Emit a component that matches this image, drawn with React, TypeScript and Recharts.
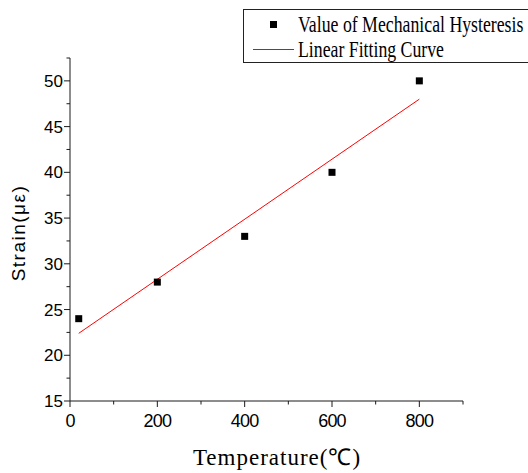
import React from 'react';
import { ScatterChart, Scatter, XAxis, YAxis, Legend } from 'recharts';

// Measured points
const tempC = [20, 200, 400, 600, 800];
const strain = [24, 28, 33, 40, 50];
// Linear fitting curve end points
const fitTemp = [20, 800];
const fitStrain = [22.4, 48.0];
// Axis ticks
const xTicks = [0, 100, 200, 300, 400, 500, 600, 700, 800, 900];
const xLabelTicks = [0, 200, 400, 600, 800];
const yTicks = [15, 17.5, 20, 22.5, 25, 27.5, 30, 32.5, 35, 37.5, 40, 42.5, 45, 47.5, 50, 52.5];
const yLabelTicks = [15, 20, 25, 30, 35, 40, 45, 50];

const points = tempC.map((t, i) => ({ t, s: strain[i] }));
const fitPts = fitTemp.map((t, i) => ({ t, s: fitStrain[i] }));

const AXIS = '#1a1a1a';
const SANS = '"Liberation Sans", Arial, sans-serif';
const SERIF = '"Liberation Serif", "Times New Roman", serif';

const XTick = (props: any) => {
  const { x, y, payload } = props;
  const major = xLabelTicks.includes(payload.value);
  return (
    <g>
      <line x1={x} y1={y} x2={x} y2={y + (major ? 6 : 3.5)} stroke={AXIS} strokeWidth={1} />
      {major && (
        <text x={x} y={y + 26} textAnchor="middle" fontFamily={SANS} fontSize={18} letterSpacing={-0.8} fill="#000">
          {payload.value}
        </text>
      )}
    </g>
  );
};

const YTick = (props: any) => {
  const { x, y, payload } = props;
  const major = yLabelTicks.includes(payload.value);
  return (
    <g>
      <line x1={x - (major ? 6 : 3.5)} y1={y} x2={x} y2={y} stroke={AXIS} strokeWidth={1} />
      {major && (
        <text x={x - 7} y={y + 6} textAnchor="end" fontFamily={SANS} fontSize={17} fill="#000">
          {payload.value}
        </text>
      )}
    </g>
  );
};

const SquareShape = (props: any) => {
  const { cx, cy } = props;
  return <rect x={cx - 3.5} y={cy - 3.5} width={7} height={7} fill="#000" />;
};

const NoShape = () => <g />;

const textStyle: React.CSSProperties = {
  position: 'absolute',
  left: 54,
  fontSize: 24,
  lineHeight: '24px',
  whiteSpace: 'nowrap',
  transform: 'scaleX(0.74)',
  transformOrigin: 'left center',
};

const LegendBox = () => (
  <div
    style={{
      position: 'relative',
      width: 285,
      height: 52,
      borderTop: '1px solid #222',
      borderLeft: '1px solid #222',
      borderBottom: '1px solid #222',
      fontFamily: SERIF,
      color: '#000',
      background: '#fff',
    }}
  >
    <div style={{ position: 'absolute', left: 26, top: 11, width: 7, height: 7, background: '#000' }} />
    <div style={{ ...textStyle, top: 2 }}>Value of Mechanical Hysteresis</div>
    <svg width={42} height={3} style={{ position: 'absolute', left: 9, top: 38, display: 'block' }}>
      <line x1={0} y1={1.5} x2={41} y2={1.5} stroke="#ff0000" strokeWidth={1} />
    </svg>
    <div style={{ ...textStyle, top: 27 }}>Linear Fitting Curve</div>
  </div>
);

export default function App() {
  return (
    <div style={{ position: 'absolute', left: 0, top: 0, width: 528, height: 473, background: '#fff' }}>
      <ScatterChart width={528} height={473} margin={{ top: 58, right: 65, bottom: 0, left: 0 }}>
        <XAxis
          type="number"
          dataKey="t"
          domain={[0, 900]}
          ticks={xTicks}
          interval={0}
          height={72}
          tickSize={0}
          tickMargin={0}
          tickLine={false}
          tick={<XTick />}
          axisLine={{ stroke: AXIS, strokeWidth: 1 }}
          label={{
            content: () => (
              <text x={277} y={465} textAnchor="middle" fontFamily={SERIF} fontSize={23} letterSpacing={1} fill="#000">
                Temperature(℃)
              </text>
            ),
          }}
        />
        <YAxis
          type="number"
          dataKey="s"
          domain={[15, 52.5]}
          ticks={yTicks}
          interval={0}
          width={70}
          tickSize={0}
          tickMargin={0}
          tickLine={false}
          tick={<YTick />}
          axisLine={{ stroke: AXIS, strokeWidth: 1 }}
          label={{
            content: () => (
              <text
                x={25}
                y={233}
                transform="rotate(-90 25 233)"
                textAnchor="middle"
                fontFamily={SANS}
                fontSize={19}
                letterSpacing={1.5}
                fill="#000"
              >
                Strain(με)
              </text>
            ),
          }}
        />
        <Legend
          layout="horizontal"
          verticalAlign="middle"
          align="center"
          wrapperStyle={{ left: 243, top: 9, width: 285, height: 54, bottom: 'auto', right: 'auto' }}
          content={() => <LegendBox />}
        />
        <Scatter
          name="Linear Fitting Curve"
          data={fitPts}
          line={{ stroke: '#ff0000', strokeWidth: 1 }}
          shape={NoShape}
          isAnimationActive={false}
        />
        <Scatter
          name="Value of Mechanical Hysteresis"
          data={points}
          shape={SquareShape}
          fill="#000"
          isAnimationActive={false}
        />
      </ScatterChart>
    </div>
  );
}
